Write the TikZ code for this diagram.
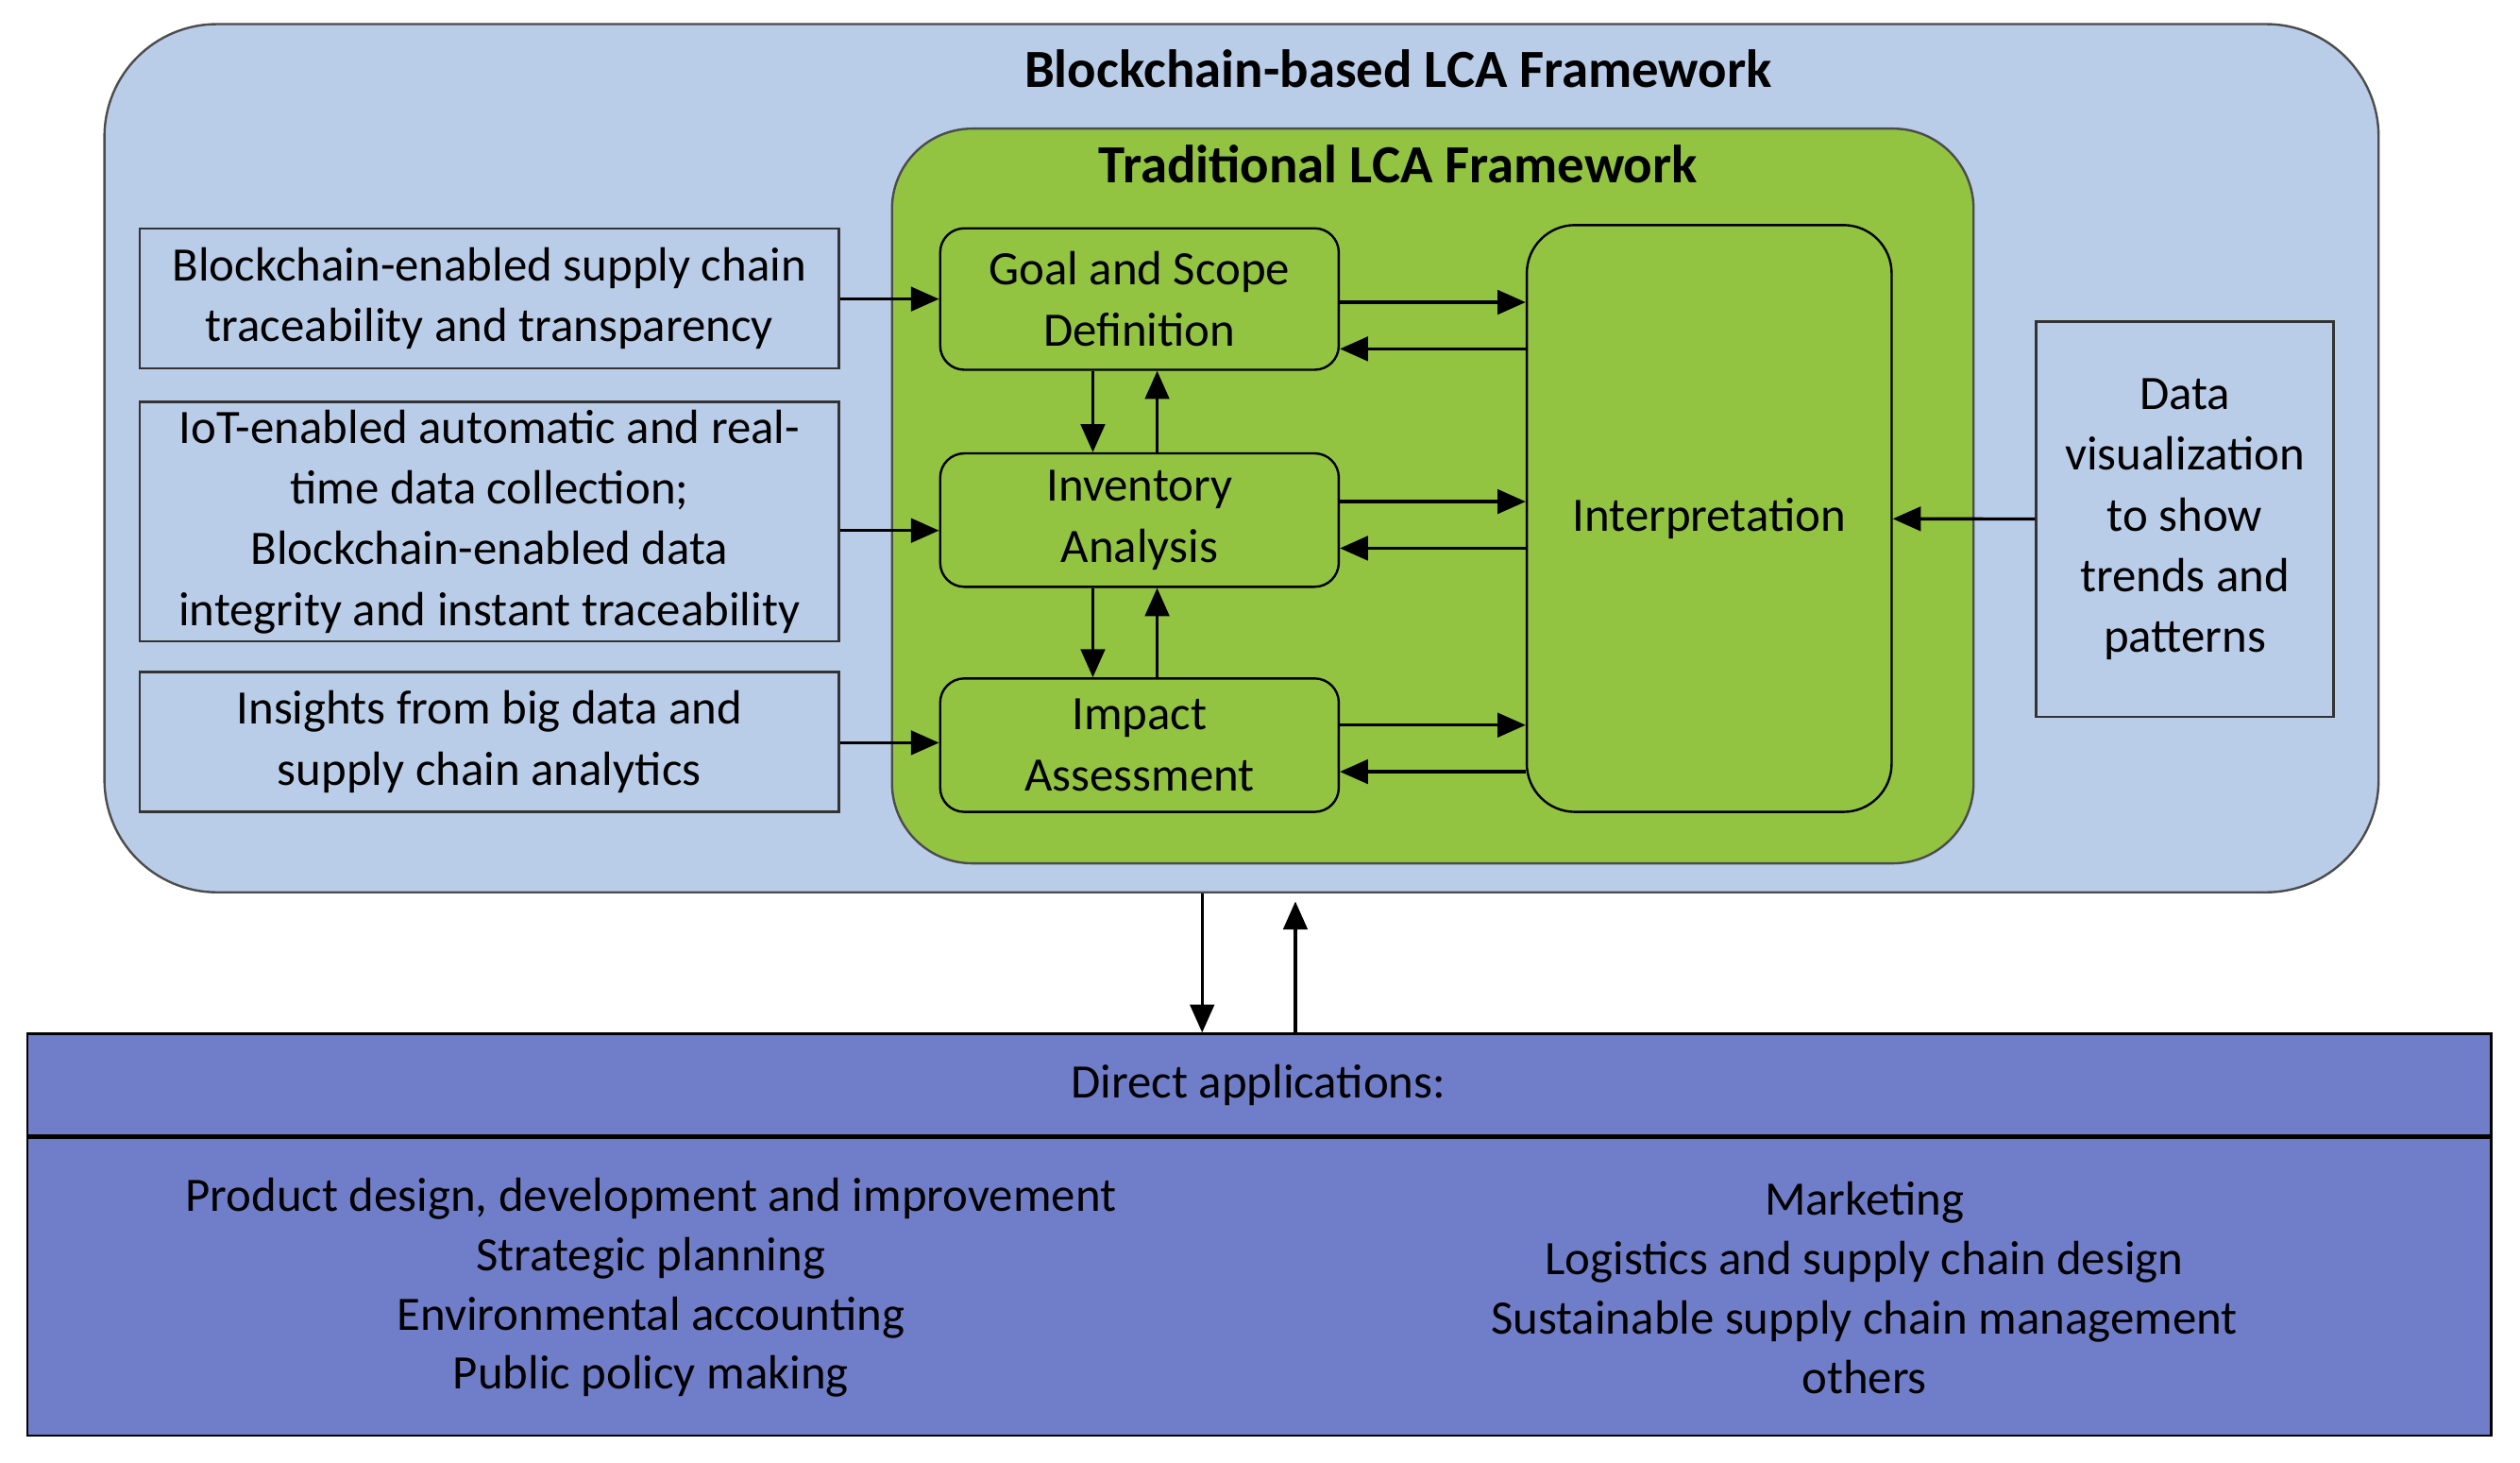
\documentclass[tikz,border=0pt]{standalone}
\usepackage{fontspec}
\setmainfont{Carlito}
\usetikzlibrary{positioning, arrows.meta}
\definecolor{outerblue}{RGB}{186,205,232}
\definecolor{lcagreen}{RGB}{146,196,66}
\definecolor{appblue}{RGB}{112,126,202}
\begin{document}
\begin{tikzpicture}
    [
        x=0.02cm, y=-0.02cm,
        every node/.style={font=\fontsize{17}{21.5}\selectfont},
        stage_box/.style={draw=black, rounded corners=3mm, thick, inner sep=0pt},
        side_box/.style={draw=black!80, fill=outerblue, thick, inner sep=0pt, align=center},
        link/.style={-{Triangle[length=3.5mm, width=3mm]}, line width=0.4mm},
    ]
        \useasboundingbox (0,0) rectangle (1568,910) ;
        % frames
        \node[draw=black!70, fill=outerblue, rounded corners=14mm, thick, minimum width=1415*0.02cm, minimum height=540*0.02cm] (outer) at (772.5,285) {} ;
        \node[font=\fontsize{19}{22}\selectfont\bfseries] (outertitle) at (870,43) {Blockchain-based LCA Framework} ;
        \node[draw=black!70, fill=lcagreen, rounded corners=10mm, thick, minimum width=673*0.02cm, minimum height=457*0.02cm] (inner) at (891.5,308.5) {} ;
        \node[font=\fontsize{19}{22}\selectfont\bfseries] (innertitle) at (870,102) {Traditional LCA Framework} ;
        % LCA stages
        \node[stage_box, minimum width=248*0.02cm, minimum height=88*0.02cm, align=center] (goal) at (709,186) {Goal and Scope\\Definition} ;
        \node[stage_box, minimum width=248*0.02cm, minimum height=83*0.02cm, align=center] (inv) at (709,323.5) {Inventory\\Analysis} ;
        \node[stage_box, minimum width=248*0.02cm, minimum height=83*0.02cm, align=center] (impact) at (709,463.5) {Impact\\Assessment} ;
        \node[stage_box, rounded corners=6mm, minimum width=227*0.02cm, minimum height=365*0.02cm] (interp) at (1063.5,322.5) {Interpretation} ;
        % side boxes
        \node[side_box, minimum width=435*0.02cm, minimum height=87*0.02cm] (trace) at (304.5,185.5) {Blockchain-enabled supply chain\\traceability and transparency} ;
        \node[side_box, minimum width=435*0.02cm, minimum height=149*0.02cm] (iot) at (304.5,324.5) {IoT-enabled automatic and real-\\time data collection;\\Blockchain-enabled data\\integrity and instant traceability} ;
        \node[side_box, minimum width=435*0.02cm, minimum height=87*0.02cm] (bigdata) at (304.5,461.5) {Insights from big data and\\supply chain analytics} ;
        \node[side_box, minimum width=185*0.02cm, minimum height=246*0.02cm] (visual) at (1359.5,323) {Data\\visualization\\to show\\trends and\\patterns} ;
        % applications
        \node[draw=black, fill=appblue, thick, minimum width=1533*0.02cm, minimum height=250*0.02cm] (apps) at (783.5,768) {} ;
        \draw[line width=0.5mm] (17,707) -- (1550,707) ;
        \node (appstitle) at (783,675) {Direct applications:} ;
        \node[align=center, font=\fontsize{17}{21}\selectfont] (appsleft) at (405,801) {Product design, development and improvement\\Strategic planning\\Environmental accounting\\Public policy making} ;
        \node[align=center, font=\fontsize{17}{21}\selectfont] (appsright) at (1160,801) {Marketing\\Logistics and supply chain design\\Sustainable supply chain management\\others} ;
        % connectors
        \draw[link] (trace.east |- 0,186) -- (goal.west |- 0,186) ;
        \draw[link] (iot.east |- 0,330) -- (inv.west |- 0,330) ;
        \draw[link] (bigdata.east |- 0,462) -- (impact.west |- 0,462) ;
        \draw[link] (visual) -- (interp) ;
        \foreach \s/\a/\b in {goal/188/217, inv/312/341, impact/451/480} {
            \draw[link] (\s.east |- 0,\a) -- (interp.west |- 0,\a) ;
            \draw[link] (interp.west |- 0,\b) -- (\s.east |- 0,\b) ;
        }
        \draw[link] (goal.south -| 680,0) -- (inv.north -| 680,0) ;
        \draw[link] (inv.north -| 720,0) -- (goal.south -| 720,0) ;
        \draw[link] (inv.south -| 680,0) -- (impact.north -| 680,0) ;
        \draw[link] (impact.north -| 720,0) -- (inv.south -| 720,0) ;
        \draw[link] (outer.south -| 748,0) -- (apps.north -| 748,0) ;
        \draw[link] (apps.north -| 806,0) -- ([yshift=-1mm]outer.south -| 806,0) ;
    \end{tikzpicture}
\end{document}
